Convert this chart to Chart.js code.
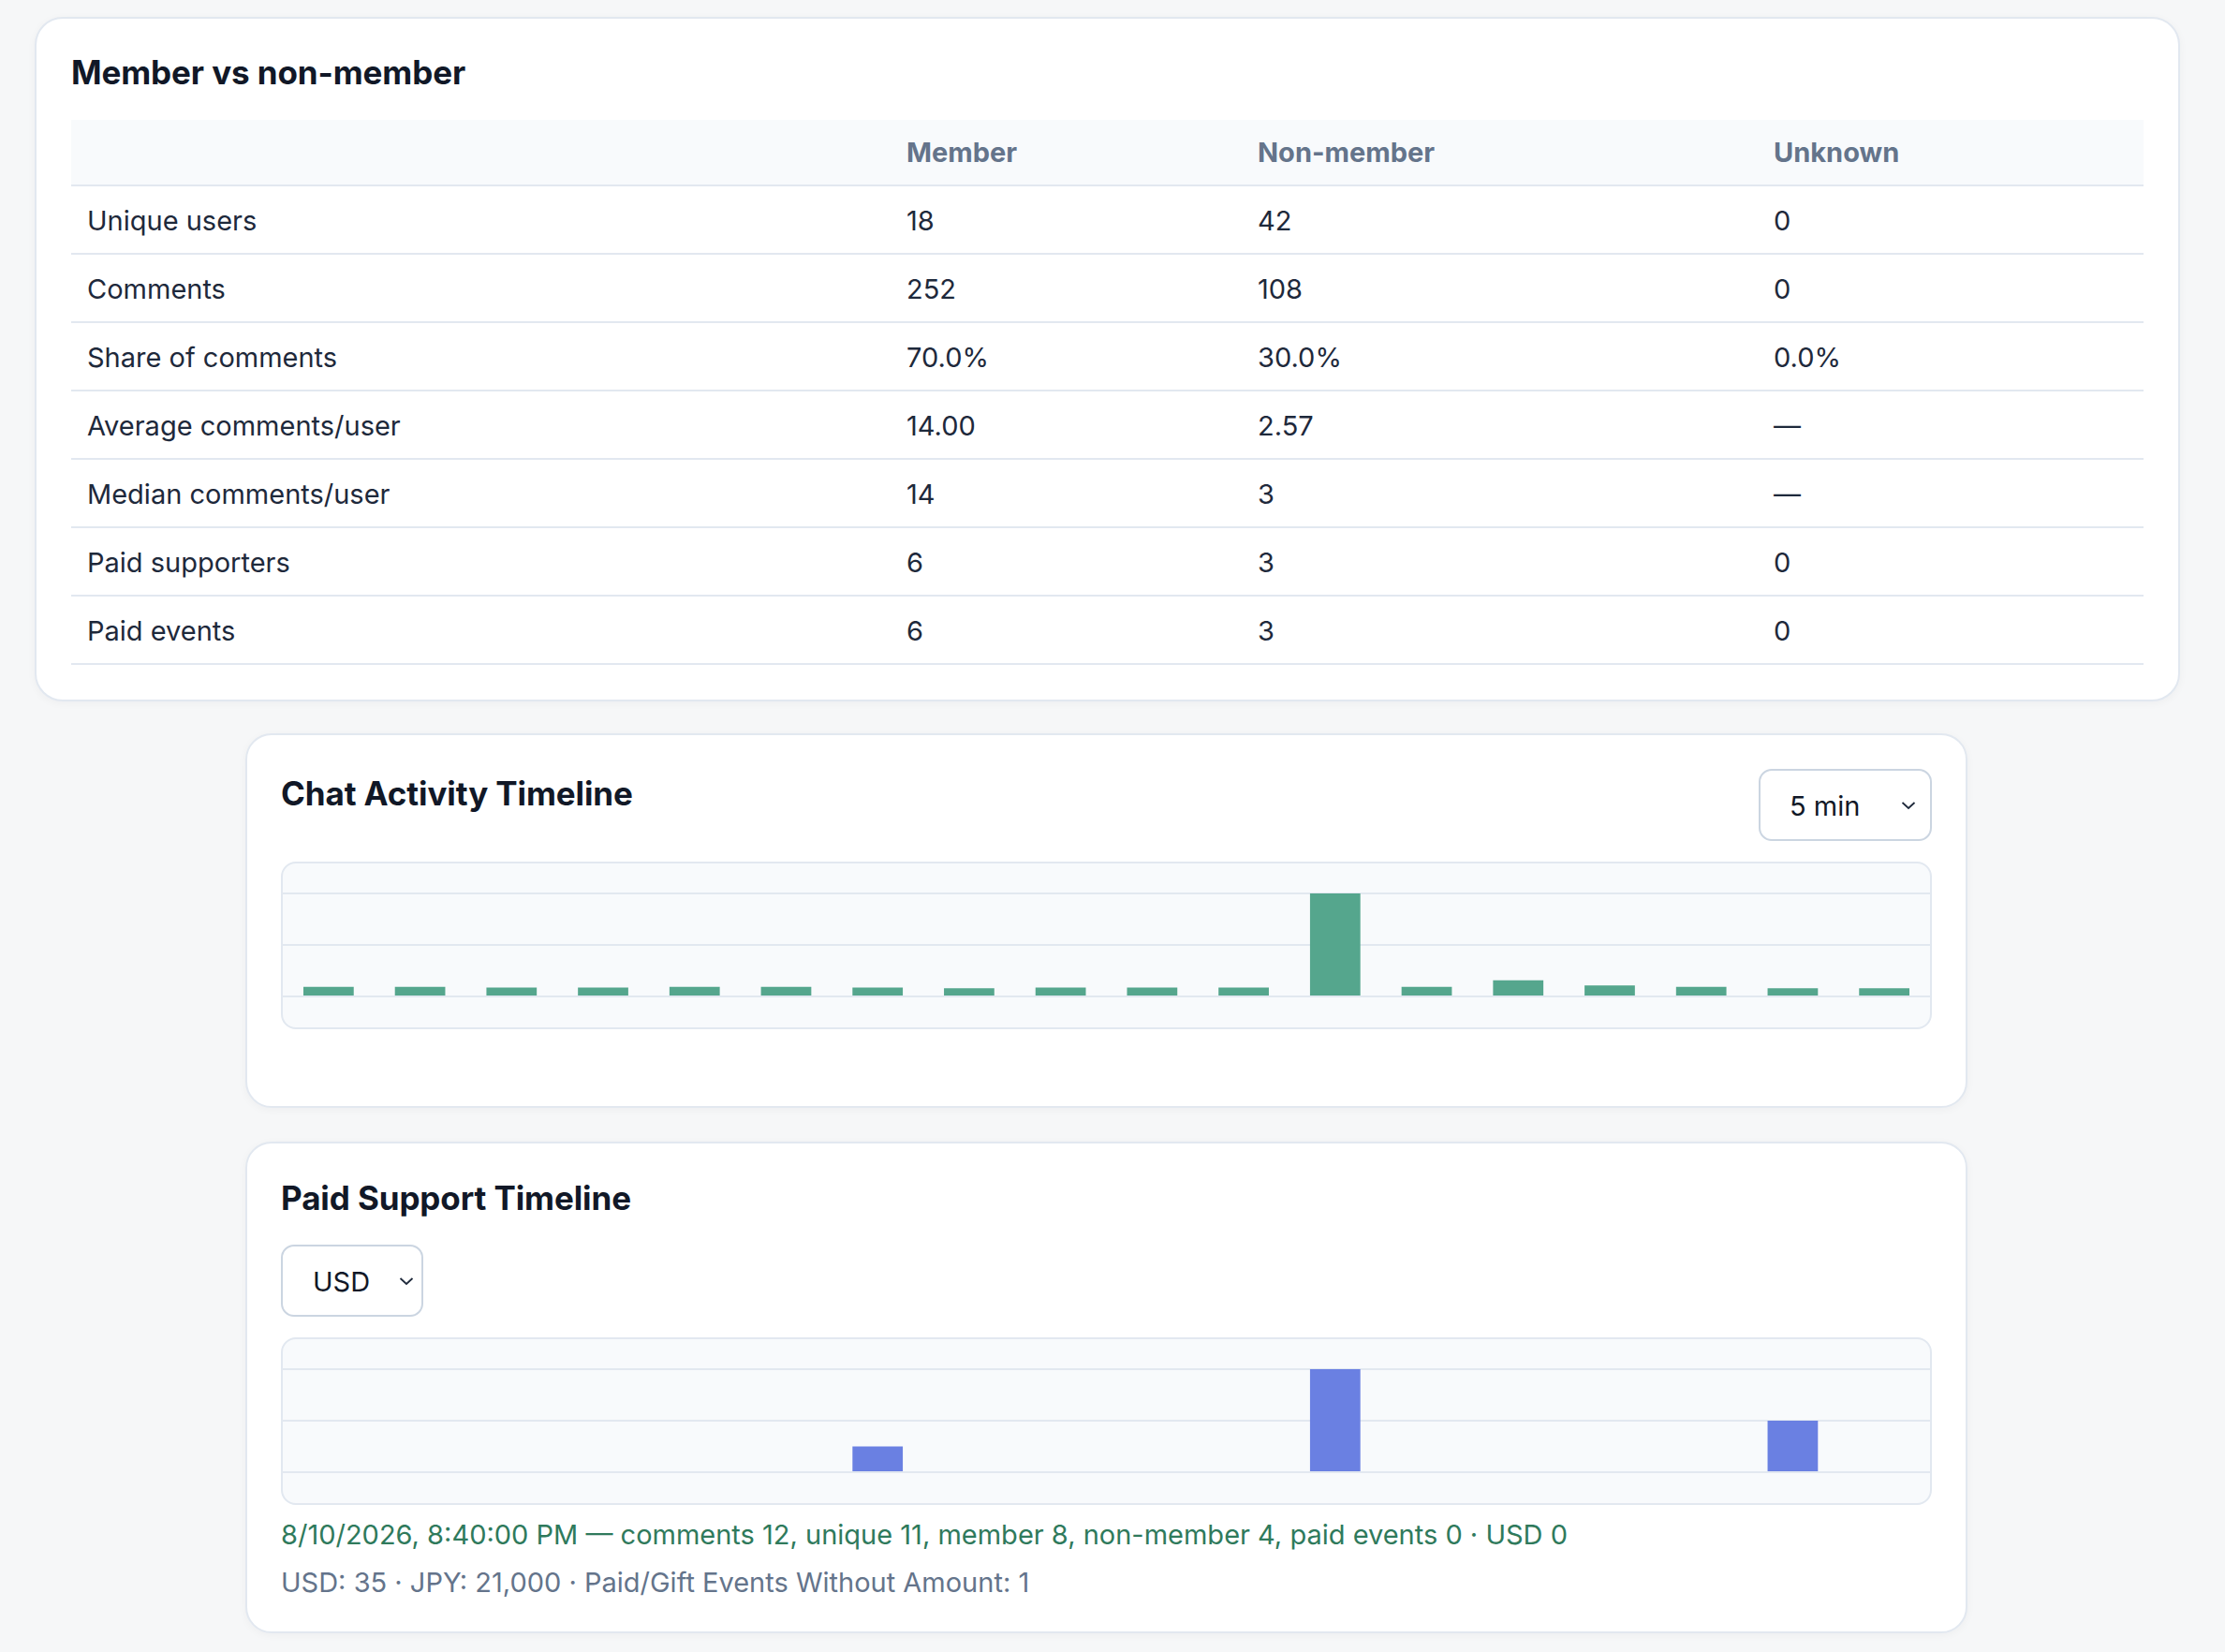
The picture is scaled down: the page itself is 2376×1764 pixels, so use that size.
<!DOCTYPE html>
<html>
<head>
<meta charset="utf-8">
<script src="https://cdn.jsdelivr.net/npm/chart.js@4.4.1/dist/chart.umd.min.js"></script>
<style>
  html, body { margin: 0; padding: 0; }
  body { width: 2376px; height: 1764px; background: #f6f7f8; font-family: Inter, "Noto Sans", sans-serif; color: #1e293b; position: relative; overflow: hidden; }
  .card { position: absolute; background: #fff; border: 2px solid #e2e8f0; border-radius: 30px; box-sizing: border-box; box-shadow: 0 2px 10px rgba(15,23,42,0.04); }
  .title { position: absolute; font-weight: 700; font-size: 35px; color: #111827; line-height: 1; white-space: nowrap; letter-spacing: -0.1px; }
  table { position: absolute; border-collapse: collapse; table-layout: fixed; font-size: 29px; }
  th { background: #f8fafc; color: #64748b; font-weight: 700; text-align: left; height: 69px; padding: 0 0 0 17px; border-bottom: 2px solid #e2e8f0; }
  td { text-align: left; height: 73px; padding: 1px 0 0 17px; border-bottom: 2px solid #e2e8f0; color: #1e293b; box-sizing: border-box; }
  .select { position: absolute; box-sizing: border-box; border: 2px solid #cbd5e1; border-radius: 14px; background: #fff; font-size: 29px; color: #111827; }
  .select span { position: absolute; top: 50%; transform: translateY(-50%); }
  .select svg { position: absolute; top: 50%; transform: translateY(-50%); }
  .chartbox { position: absolute; box-sizing: border-box; border: 2px solid #e2e8f0; border-radius: 16px; background: #f8fafc; overflow: hidden; }
  .chartbox canvas { display: block; }
  .line { position: absolute; font-size: 29px; white-space: nowrap; line-height: 1; }
</style>
</head>
<body>
<div class="card" style="left:37px; top:18px; width:2291px; height:731px;"></div>
<div class="title" style="left:76px; top:60px;">Member vs non-member</div>
<table id="mtable" style="left:76px; top:128px; width:2213px;">
  <colgroup><col style="width:875px"><col style="width:375px"><col style="width:551px"><col style="width:412px"></colgroup>
  <thead><tr id="mhead"></tr></thead>
  <tbody id="mbody"></tbody>
</table>

<div class="card" style="left:262px; top:783px; width:1839px; height:400px; border-radius:28px;"></div>
<div class="title" style="left:300px; top:830px;">Chat Activity Timeline</div>
<div class="select" style="left:1878px; top:821px; width:185px; height:77px;">
  <span style="left:31px;">5 min</span>
  <svg style="left:150px" width="16" height="10" viewBox="0 0 16 10"><path d="M1.5 2 L8 8 L14.5 2" fill="none" stroke="#1e293b" stroke-width="1.8"/></svg>
</div>
<div class="chartbox" style="left:300px; top:920px; width:1763px; height:179px;">
  <canvas id="chatChart" width="1759" height="175"></canvas>
</div>

<div class="card" style="left:262px; top:1219px; width:1839px; height:525px; border-radius:28px;"></div>
<div class="title" style="left:300px; top:1262px;">Paid Support Timeline</div>
<div class="select" style="left:300px; top:1329px; width:152px; height:77px;">
  <span style="left:32px;">USD</span>
  <svg style="left:124px" width="16" height="10" viewBox="0 0 16 10"><path d="M1.5 2 L8 8 L14.5 2" fill="none" stroke="#1e293b" stroke-width="1.8"/></svg>
</div>
<div class="chartbox" style="left:300px; top:1428px; width:1763px; height:179px;">
  <canvas id="paidChart" width="1759" height="175"></canvas>
</div>
<div class="line" id="hoverLine" style="left:300px; top:1624px; color:#2f7a5c;"></div>
<div class="line" id="summaryLine" style="left:300px; top:1675px; color:#64748b;"></div>

<script>
// ---- Table data ----
const tableColumns = ["", "Member", "Non-member", "Unknown"];
const rowLabels = ["Unique users", "Comments", "Share of comments", "Average comments/user", "Median comments/user", "Paid supporters", "Paid events"];
const memberValues = ["18", "252", "70.0%", "14.00", "14", "6", "6"];
const nonMemberValues = ["42", "108", "30.0%", "2.57", "3", "3", "3"];
const unknownValues = ["0", "0", "0.0%", "—", "—", "0", "0"];

// ---- Timeline data (5 min bins) ----
const timeLabels = ["8:00 PM","8:05 PM","8:10 PM","8:15 PM","8:20 PM","8:25 PM","8:30 PM","8:35 PM","8:40 PM","8:45 PM","8:50 PM","8:55 PM","9:00 PM","9:05 PM","9:10 PM","9:15 PM","9:20 PM","9:25 PM"];
const chatComments = [13, 13, 12, 12, 13, 13, 12, 11, 12, 12, 12, 140, 13, 22, 15, 13, 11, 11];
const paidUSD = [0, 0, 0, 0, 0, 0, 5, 0, 0, 0, 0, 20, 0, 0, 0, 0, 10, 0];

const hoverText = "8/10/2026, 8:40:00 PM — comments 12, unique 11, member 8, non-member 4, paid events 0 · USD 0";
const summaryText = "USD: 35 · JPY: 21,000 · Paid/Gift Events Without Amount: 1";

// build table
const head = document.getElementById("mhead");
tableColumns.forEach(c => { const th = document.createElement("th"); th.textContent = c; head.appendChild(th); });
const body = document.getElementById("mbody");
rowLabels.forEach((lab, i) => {
  const tr = document.createElement("tr");
  [lab, memberValues[i], nonMemberValues[i], unknownValues[i]].forEach(v => {
    const td = document.createElement("td"); td.textContent = v; tr.appendChild(td);
  });
  body.appendChild(tr);
});
document.getElementById("hoverLine").textContent = hoverText;
document.getElementById("summaryLine").textContent = summaryText;

function makeChart(id, labels, values, color) {
  const maxV = Math.max(...values);
  return new Chart(document.getElementById(id), {
    type: "bar",
    data: { labels: labels, datasets: [{ data: values, backgroundColor: color, borderWidth: 0, barPercentage: 0.55, categoryPercentage: 1.0 }] },
    options: {
      responsive: false, animation: false, devicePixelRatio: 1,
      layout: { padding: { top: 32, bottom: 33, left: 0, right: 0 } },
      plugins: { legend: { display: false }, tooltip: { enabled: false } },
      scales: {
        x: { display: false },
        y: { min: 0, max: maxV, ticks: { display: false, stepSize: maxV / 2 },
             grid: { color: "#e2e8f0", lineWidth: 2, drawTicks: false }, border: { display: false } }
      }
    }
  });
}
makeChart("chatChart", timeLabels, chatComments, "#55a68d");
makeChart("paidChart", timeLabels, paidUSD, "#6a80e2");
</script>
</body>
</html>
